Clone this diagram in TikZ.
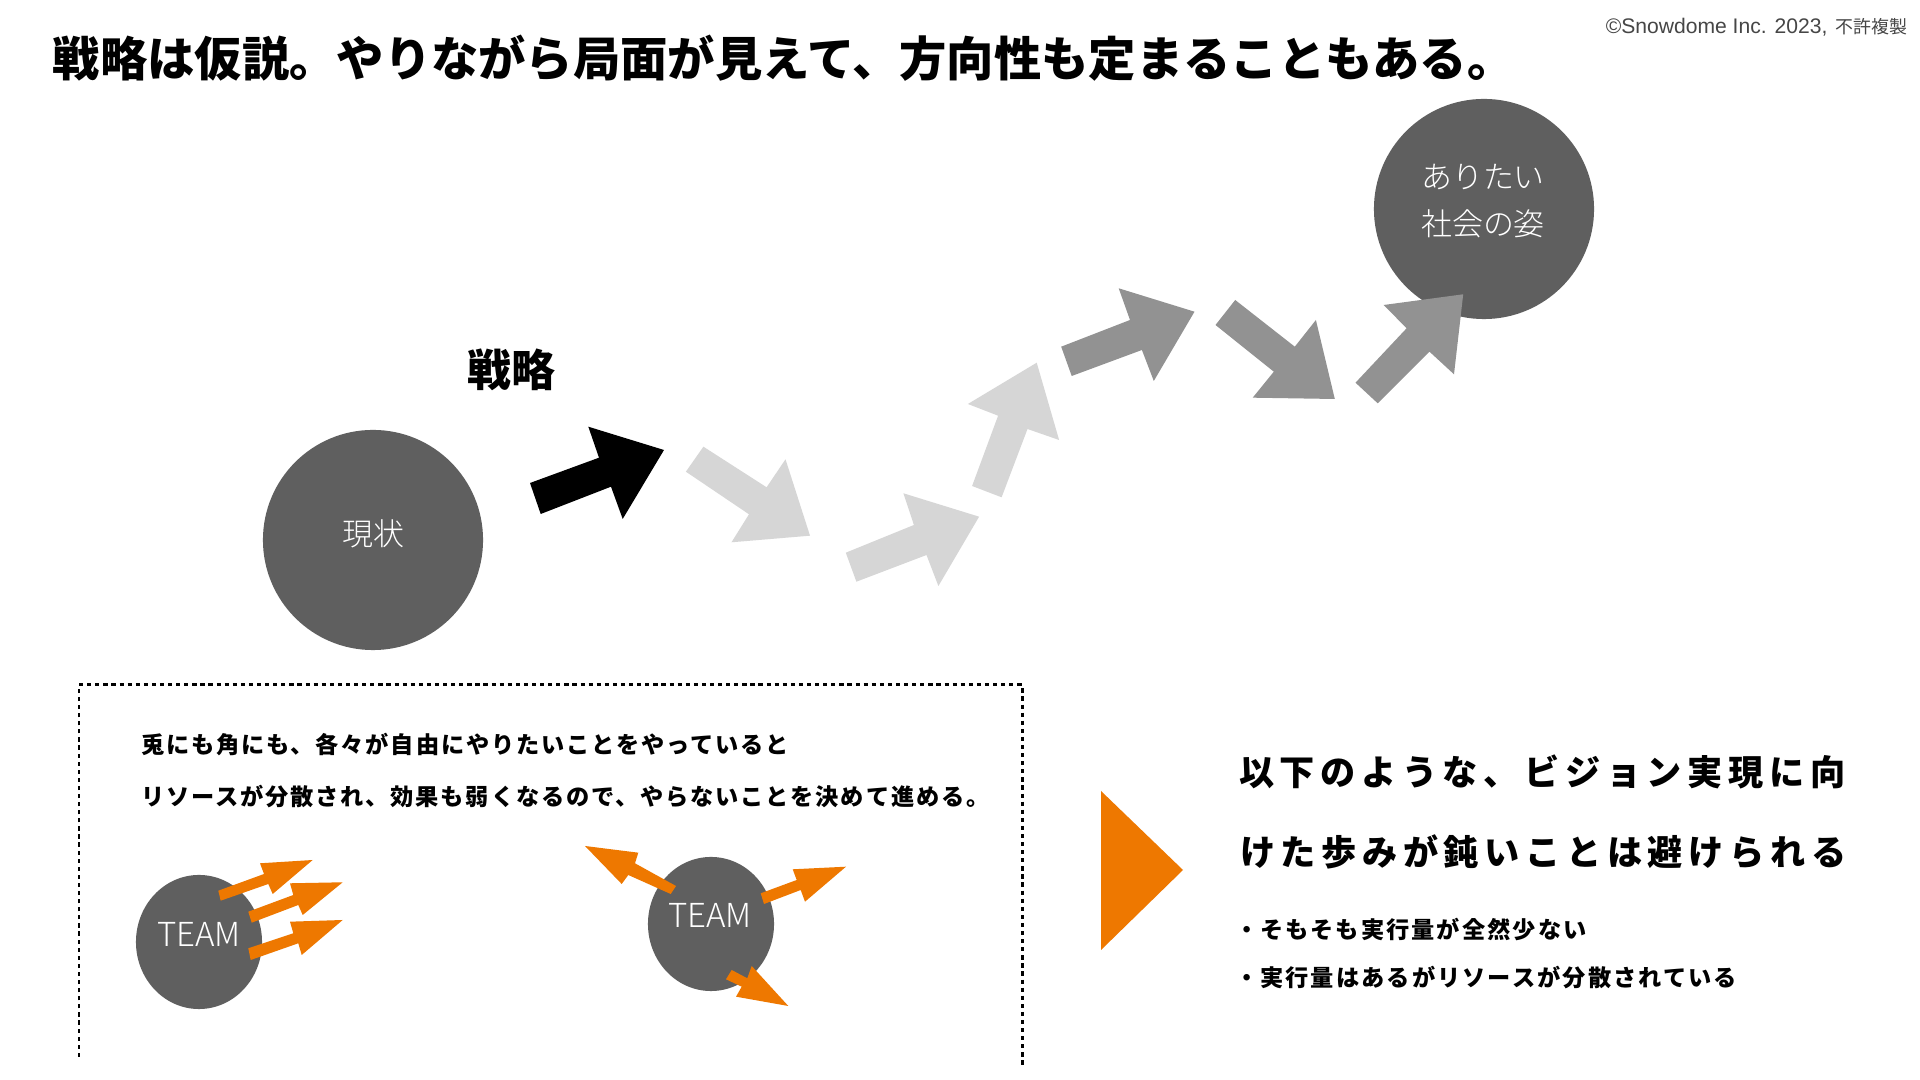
\documentclass[tikz,border=0pt]{standalone}
\usepackage{fontspec}
\setmainfont{Noto Sans CJK JP}
\newfontfamily\latinsans{Liberation Sans}
\IfFontExistsTF{Noto Sans CJK JP Light}
  {\newfontfamily\lightcjk{Noto Sans CJK JP Light}}
  {\IfFontExistsTF{Noto Sans CJK JP DemiLight}
     {\newfontfamily\lightcjk{Noto Sans CJK JP DemiLight}}
     {\newfontfamily\lightcjk{Noto Sans CJK JP}}}
\usetikzlibrary{shapes.geometric}
\definecolor{circg}{RGB}{95,95,95}
\definecolor{liteg}{RGB}{214,214,214}
\definecolor{midg}{RGB}{146,146,146}
\definecolor{orng}{RGB}{238,120,0}
\definecolor{copyg}{RGB}{70,70,70}
\begin{document}
\begin{tikzpicture}[x=0.01cm,y=-0.01cm,
  txt/.style={inner sep=0pt, outer sep=0pt},
  bigcirc/.style={circle, fill=circg, minimum size=2.2cm, inner sep=0pt},
  teamell/.style={ellipse, fill=circg, minimum width=1.26cm, minimum height=1.34cm, inner sep=0pt},
  teamtxt/.style={txt, text=white, font=\lightcjk\fontsize{9.4pt}{10pt}\selectfont},
  boxtxt/.style={txt, anchor=west, font=\fontsize{6.6pt}{8pt}\selectfont\bfseries\addfontfeature{LetterSpace=8}},
  bultxt/.style={txt, anchor=west, font=\fontsize{6.6pt}{8pt}\selectfont\bfseries\addfontfeature{LetterSpace=9}},
  bigtxt/.style={txt, anchor=west, font=\fontsize{10pt}{12pt}\selectfont\bfseries\addfontfeature{LetterSpace=16}},
  frame/.style={line width=0.85pt, dash pattern=on 1.2pt off 1.1pt}]
\useasboundingbox (0,0) rectangle (1920,1080);
\fill[white] (0,0) rectangle (1920,1080);

% title and copyright
\node[txt, anchor=west, font=\fontsize{13.45pt}{16pt}\selectfont\bfseries] (title) at (53,58) {戦略は仮説。やりながら局面が見えて、方向性も定まることもある。};
\node[txt, anchor=east, text=copyg] (copy) at (1907,27) {{\latinsans\fontsize{6pt}{7pt}\selectfont ©Snowdome Inc. 2023,} {\fontsize{5.1pt}{7pt}\selectfont 不許複製}};

% circles
\node[bigcirc] (now) at (373,540) {};
\node[txt, text=white, font=\lightcjk\fontsize{8.8pt}{10pt}\selectfont] (nowt) at (373,534) {現状};
\node[bigcirc] (goal) at (1484,209) {};
\node[txt, text=white, align=center, font=\lightcjk\fontsize{8.8pt}{13.4pt}\selectfont] (goalt) at (1483,201) {ありたい\\社会の姿};

\node[txt, font=\fontsize{12.5pt}{14pt}\selectfont\bfseries] (strat) at (511,370) {戦略};

% block arrows
\fill[black] (530,483) -- (599,457.7) -- (588.3,426.7) -- (664,450) -- (622.7,519) -- (611,486.7) -- (540.7,514) -- cycle;
\fill[liteg] (703.4,446.7) -- (766.6,487.3) -- (785.5,459.3) -- (810,535.7) -- (731.5,542.3) -- (749,514.3) -- (685.9,471.7) -- cycle;
\fill[liteg] (845.8,552.7) -- (913.9,525) -- (903.4,493.3) -- (979.1,516.7) -- (938.4,586) -- (926.5,555) -- (856.4,581.7) -- cycle;
\fill[liteg] (972.1,486) -- (998.1,415.7) -- (967.9,404) -- (1036.7,362.7) -- (1059.1,440) -- (1027.5,429) -- (1001.6,497.3) -- cycle;
\fill[midg] (1061.2,346.7) -- (1130,320) -- (1118.7,288.3) -- (1194.5,311.7) -- (1153.8,381) -- (1141.9,350) -- (1071.7,376) -- cycle;
\fill[midg] (1235.2,300) -- (1294.8,346.7) -- (1315.9,320) -- (1334.8,399) -- (1252.7,397.7) -- (1273.8,371.7) -- (1215.5,325) -- cycle;
\fill[midg] (1355.5,382.7) -- (1406.6,328.3) -- (1383.7,305) -- (1463.2,294.3) -- (1454,374.3) -- (1429.5,351.7) -- (1377.7,403.3) -- cycle;

% dashed frame
\coordinate (f1) at (79,1057);
\coordinate (f2) at (79,685);
\coordinate (f3) at (1022,685);
\coordinate (f4) at (1022,1068);
\draw[frame] (f1) -- (f2) -- (f3) -- (f4);

\node[boxtxt] (b1) at (141,745) {兎にも角にも、各々が自由にやりたいことをやっていると};
\node[boxtxt] (b2) at (141,797) {リソースが分散され、効果も弱くなるので、やらないことを決めて進める。};

% teams
\node[teamell] (teamL) at (199,942) {};
\node[teamtxt] (teamLt) at (199,934) {TEAM};
\node[teamell] (teamR) at (711,924) {};
\node[teamtxt] (teamRt) at (710,915) {TEAM};

\fill[orng] (218.3,890.7) -- (264,874) -- (260,863.3) -- (312.7,860) -- (272.7,894) -- (268.3,884) -- (220.7,900.7) -- cycle;
\fill[orng] (248.3,911.7) -- (293.3,895) -- (290,883.3) -- (342.7,882.3) -- (302.7,915) -- (298.3,905) -- (251.7,922.7) -- cycle;
\fill[orng] (248.3,948.3) -- (293.3,933.3) -- (290,921.7) -- (342.7,920) -- (301.7,955) -- (298.3,943.3) -- (250.7,960) -- cycle;
\fill[orng] (676,886) -- (635,863.3) -- (638.3,852.7) -- (585,846) -- (621.7,884) -- (628.3,875) -- (670.7,894) -- cycle;
\fill[orng] (760.7,893.3) -- (796.7,880) -- (792.7,869.3) -- (846,866.7) -- (805,901.7) -- (800.7,890) -- (764,904) -- cycle;
\fill[orng] (731.7,970) -- (747.3,978.3) -- (751.7,966) -- (788.3,1006) -- (736,996.7) -- (741.7,986.7) -- (726,979.3) -- cycle;

% right side
\fill[orng] (1101,791) -- (1183,870) -- (1101,950) -- cycle;
\node[bigtxt] (r1) at (1239,772) {以下のような、ビジョン実現に向};
\node[bigtxt] (r2) at (1240,852) {けた歩みが鈍いことは避けられる};
\node[bultxt] (r3) at (1235,929) {・そもそも実行量が全然少ない};
\node[bultxt] (r4) at (1235,978) {・実行量はあるがリソースが分散されている};
\end{tikzpicture}
\end{document}
